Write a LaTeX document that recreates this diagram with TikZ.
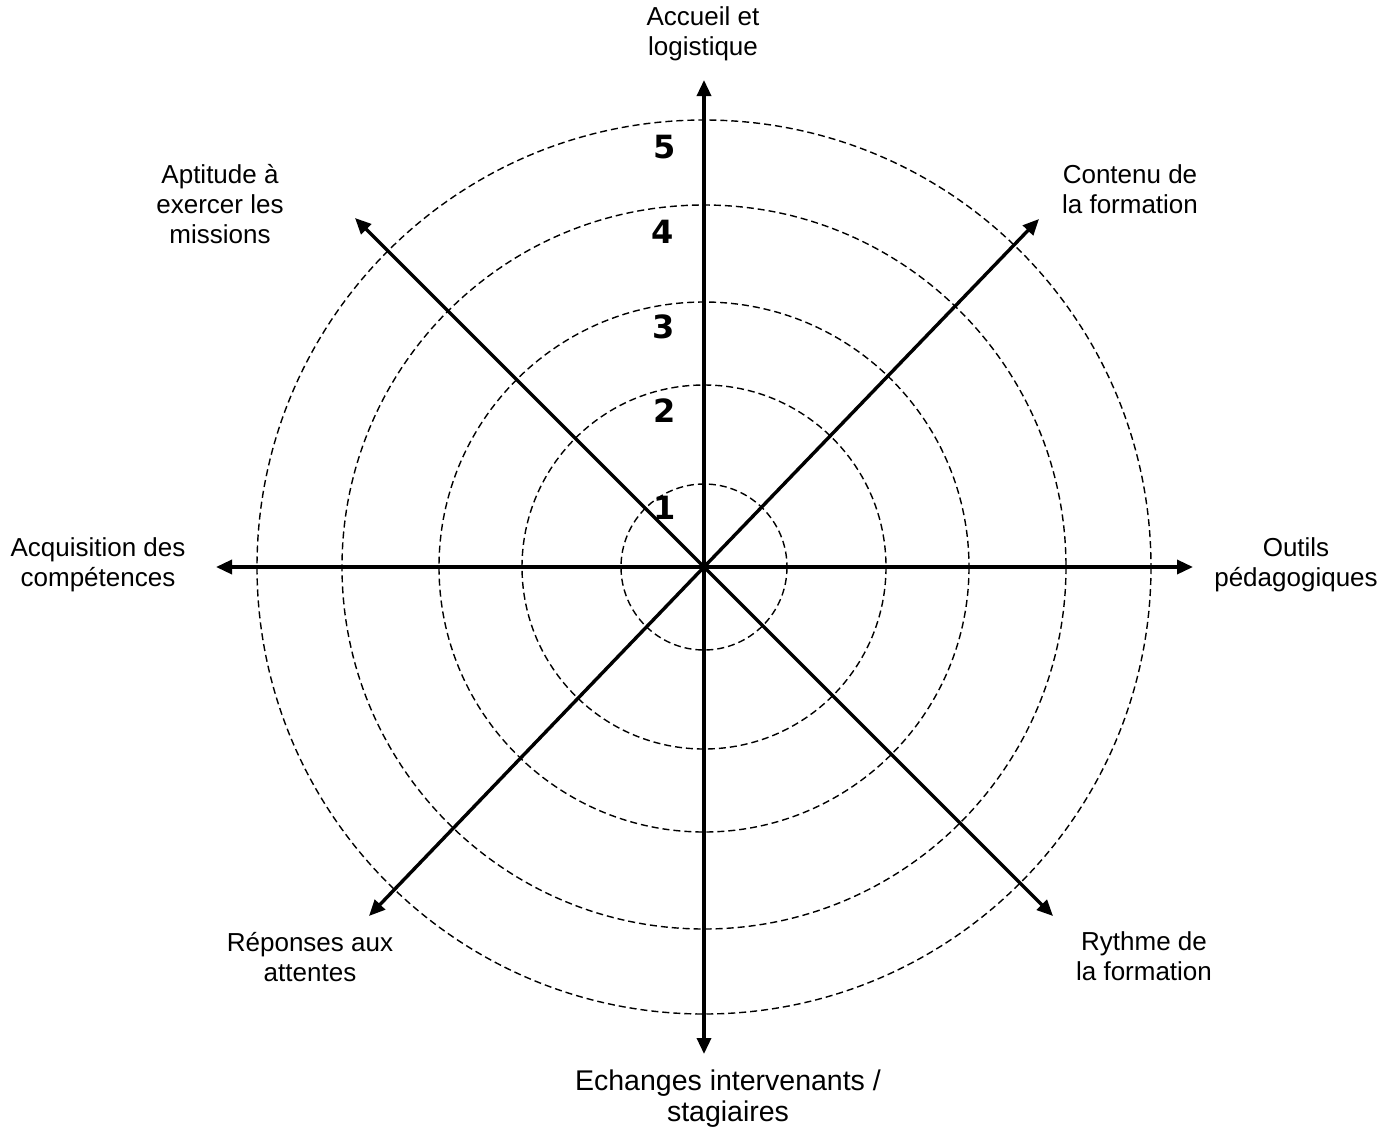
\documentclass[tikz,border=0pt]{standalone}
\usepackage{fontspec}
\setmainfont{Liberation Sans}
\newfontfamily\numfont{DejaVu Sans}
\usetikzlibrary{arrows.meta}
\tikzset{
  axisline/.style={line width=3.4pt, -{Triangle[length=16pt,width=14pt]}},
  ring/.style={line width=1.4pt, dash pattern=on 7pt off 4pt},
  lab/.style={align=center, inner sep=0pt, font=\fontsize{26}{30}\selectfont},
  biglab/.style={align=center, inner sep=0pt, font=\fontsize{28.5}{31}\selectfont},
  num/.style={inner sep=0pt, font=\numfont\bfseries\fontsize{32}{32}\selectfont}
}
\begin{document}
\begin{tikzpicture}[x=1pt,y=-1pt]
\useasboundingbox (0,0) rectangle (1399,1135);
\coordinate (O) at (704,567);
\foreach \r in {83,182,265,362,447} \draw[ring] (O) circle[radius=\r];
\coordinate (tN) at (704,80);
\coordinate (tS) at (704,1054);
\coordinate (tW) at (216,567);
\coordinate (tE) at (1193,567);
\coordinate (tNE) at (1039,219);
\coordinate (tNW) at (355,218);
\coordinate (tSW) at (369,916);
\coordinate (tSE) at (1053,916);
\foreach \t in {tN,tS,tW,tE,tNE,tNW,tSW,tSE} \draw[axisline] (O) -- (\t);
\node[num] (n5) at (665,147) {5};
\node[num] (n4) at (663,232) {4};
\node[num] (n3) at (664,327) {3};
\node[num] (n2) at (665,411) {2};
\node[num] (n1) at (665,508) {1};
\node[lab] (lN) at (703,34) {Accueil et\\logistique};
\node[lab] (lNW) at (220,204) {Aptitude à\\exercer les\\missions};
\node[lab] (lNE) at (1130,189) {Contenu de\\la formation};
\node[lab] (lW) at (98,565) {Acquisition des\\compétences};
\node[lab] (lE) at (1296,565) {Outils\\pédagogiques};
\node[lab] (lSW) at (310,957) {Réponses aux\\attentes};
\node[lab] (lSE) at (1144,956) {Rythme de\\la formation};
\node[biglab] (lS) at (728,1099) {Echanges intervenants /\\stagiaires};
\end{tikzpicture}
\end{document}
